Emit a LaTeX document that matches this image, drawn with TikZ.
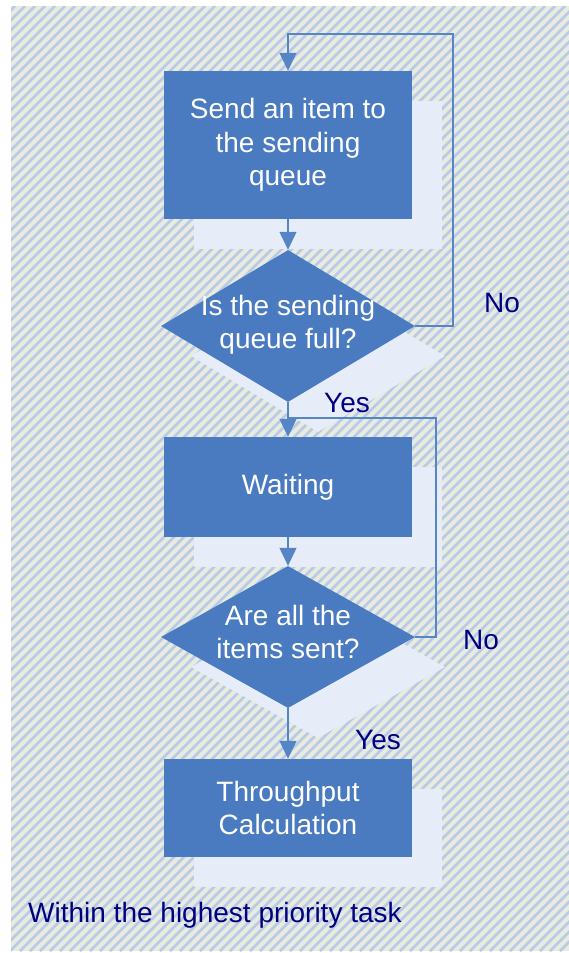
\documentclass[tikz,border=0pt]{standalone}
\usepackage{fontspec}
\setmainfont{Liberation Sans}
\usetikzlibrary{shapes.geometric,arrows.meta,shadows}
\definecolor{boxblue}{HTML}{4A7BC1}
\definecolor{shadeblue}{HTML}{E6EDF8}
\definecolor{lineblue}{HTML}{5585C5}
\definecolor{navy}{HTML}{000080}
\definecolor{paper}{HTML}{E9EBDE}
\definecolor{stripe}{HTML}{B8CAE8}
\begin{document}
\begin{tikzpicture}[x=1pt,y=-1pt,
    every node/.style={font=\fontsize{28}{33.5}\selectfont},
    flatshadow/.style={drop shadow={shadow xshift=30pt,shadow yshift=-30pt,fill=shadeblue,opacity=1}},
    procbox/.style={rectangle,fill=boxblue,text=white,align=center,minimum width=248pt,inner sep=0pt,flatshadow},
    decision/.style={diamond,fill=boxblue,minimum width=254pt,inner sep=0pt,flatshadow},
    inner/.style={text=white,align=center,inner sep=0pt},
    answer/.style={text=navy,inner sep=0pt},
    link/.style={draw=lineblue,line width=1.2pt},
    flow/.style={link,-{Triangle[width=17pt,length=18pt]}}]
        \useasboundingbox (0,0) rectangle (569,953);
        % hatched background
        \fill[paper] (11,6) rectangle (569,951);
        \begin{scope}
        \clip (11,6) rectangle (569,951);
        \foreach \i in {-950,-940,...,569}
            \draw[stripe,line width=2.6pt] (\i,951) -- ++(945,-945);
        \end{scope}
        \node[procbox,minimum height=148pt] (box1) at (288,145) {Send an item to\\the sending\\queue};
        \node[decision,minimum height=152pt] (d1) at (288,326) {};
        \node[inner] (d1t) at (288,325) {Is the sending\\queue full?};
        \node[procbox,minimum height=100pt] (box2) at (288,487) {Waiting};
        \node[decision,minimum height=142pt] (d2) at (288,637) {};
        \node[inner] (d2t) at (288,632) {Are all the\\items sent?};
        \node[procbox,minimum height=98pt] (box3) at (288,808) {Throughput\\Calculation};
        \coordinate (r1) at (453,34);
        \coordinate (r2) at (436,418);
        \draw[flow] (box1.south) -- (d1.north);
        \draw[flow] (d1.south) -- (box2.north);
        \draw[flow] (box2.south) -- (d2.north);
        \draw[flow] (d2.south) -- (box3.north);
        \draw[flow] (d1.east) -| (r1) -- (box1.north |- r1) -- (box1.north);
        \draw[link] (d2.east) -| (r2) -- (d1.south |- r2);
        \node[answer] (no1) at (502,303) {No};
        \node[answer] (yes1) at (347,403) {Yes};
        \node[answer] (no2) at (481,640) {No};
        \node[answer] (yes2) at (378,740) {Yes};
        \node[answer,anchor=west] (task) at (28,915) {Within the highest priority task};
\end{tikzpicture}
\end{document}
